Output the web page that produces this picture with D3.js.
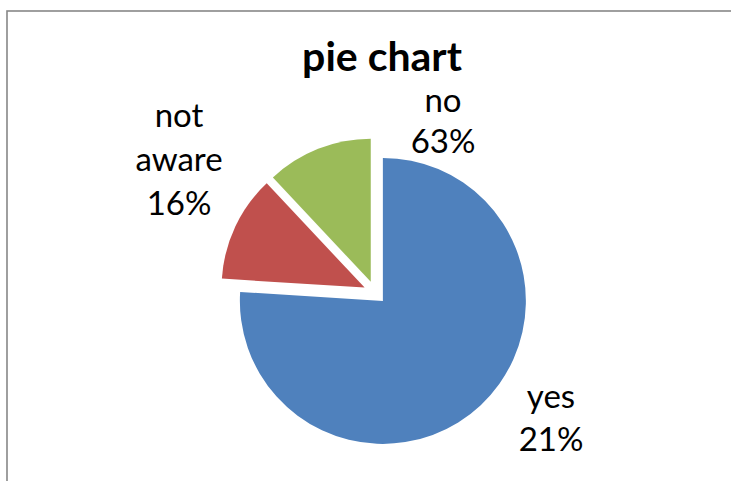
<!DOCTYPE html>
<html>
<head>
<meta charset="utf-8">
<script src="https://cdn.jsdelivr.net/npm/d3@7"></script>
<style>
  html, body { margin: 0; padding: 0; background: #ffffff; }
  svg { display: block; }
</style>
</head>
<body>
<svg id="chart" width="731" height="481"></svg>
<script>
// Slice categories and their sizes (share of the pie, in percent)
const categories = ["yes", "not aware", "no"];
const sliceValues = [76, 12, 12];
// Data-label lines printed next to each slice
const labelLines = [
  ["yes", "21%"],
  ["not", "aware", "16%"],
  ["no", "63%"]
];
const colors = ["#4F81BD", "#C0504D", "#9BBB59"];

const title = "pie chart";

// Layout
const W = 731, H = 481;
const cx = 375, cy = 292.5;
const radius = 143;
const explode = 11.5;
const labelAnchors = [[551, 408], [179, 127], [443, 112]];
const lineSteps = [43, 44, 41];
const labelFont = "Lato, 'Open Sans', sans-serif";

const svg = d3.select("#chart");

// Chart area frame
svg.append("rect")
  .attr("x", 7).attr("y", 11)
  .attr("width", W + 20).attr("height", H + 20)
  .attr("fill", "#ffffff")
  .attr("stroke", "#878787")
  .attr("stroke-width", 1.6);

// Title
svg.append("text")
  .attr("x", 382).attr("y", 70.5)
  .attr("text-anchor", "middle")
  .attr("font-family", labelFont)
  .attr("font-weight", 700)
  .attr("font-size", 41)
  .attr("fill", "#000")
  .text(title);

const pie = d3.pie().sort(null).startAngle(0).endAngle(2 * Math.PI);
const arcs = pie(sliceValues);
const arc = d3.arc().innerRadius(0).outerRadius(radius);

const g = svg.append("g").attr("transform", `translate(${cx},${cy})`);

// Every slice is pulled out along its bisector
g.selectAll("path.slice")
  .data(arcs)
  .join("path")
  .attr("class", "slice")
  .attr("d", arc)
  .attr("fill", (d, i) => colors[i])
  .attr("transform", d => {
    const mid = (d.startAngle + d.endAngle) / 2;
    return `translate(${Math.sin(mid) * explode},${-Math.cos(mid) * explode})`;
  });

// Data labels
categories.forEach((c, i) => {
  const [lx, ly] = labelAnchors[i];
  const t = svg.append("text")
    .attr("text-anchor", "middle")
    .attr("font-family", labelFont)
    .attr("font-size", 33)
    .attr("fill", "#000");
  labelLines[i].forEach((line, k) => {
    t.append("tspan")
      .attr("x", lx)
      .attr("y", ly + k * lineSteps[i])
      .text(line);
  });
});
</script>
</body>
</html>
